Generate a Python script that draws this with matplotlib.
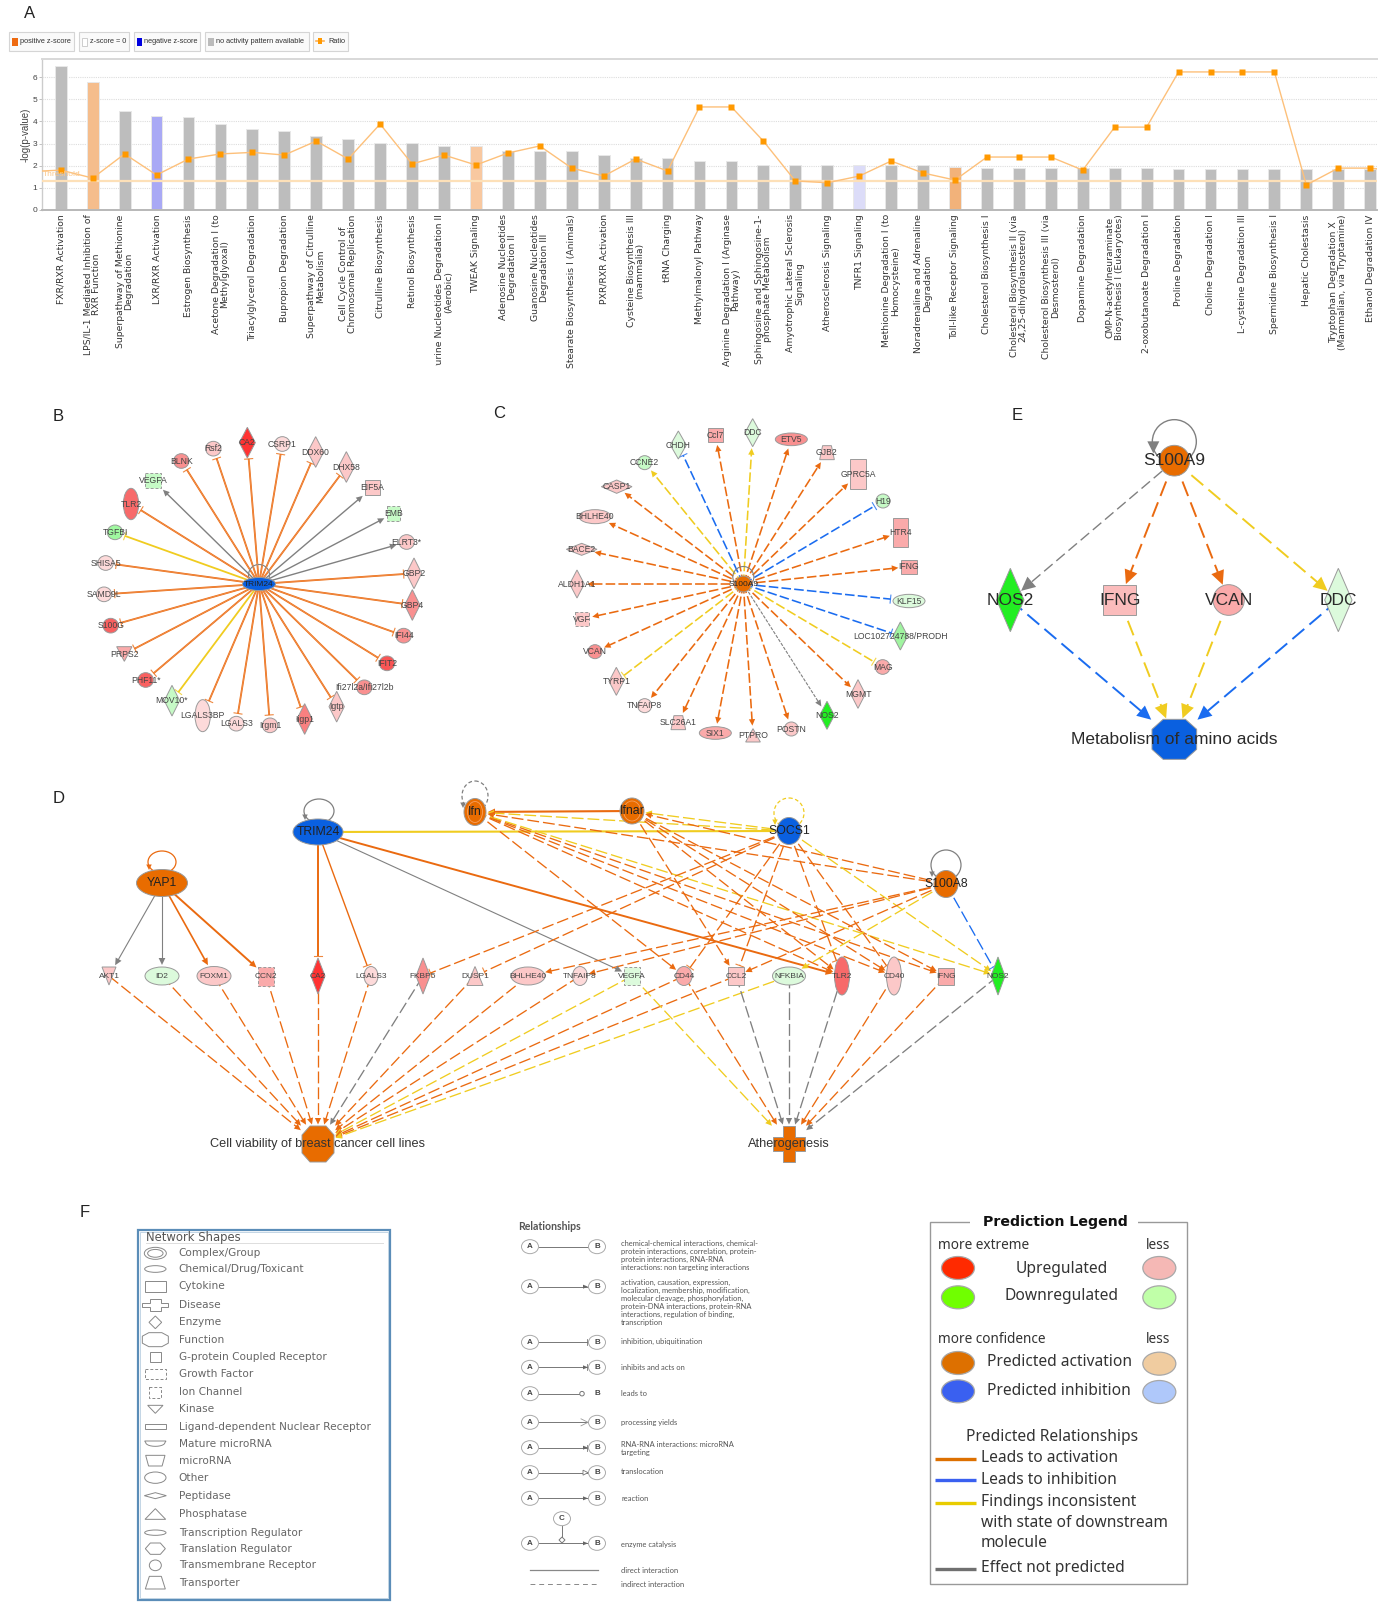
import math
import matplotlib
matplotlib.use("Agg")
import matplotlib.pyplot as plt
from matplotlib.patches import Ellipse, Polygon, Rectangle
from matplotlib.transforms import Bbox

# ---------- Panel A data ----------
categories = ["FXR/RXR Activation", "LPS/IL-1 Mediated Inhibition of\nRXR Function",
    "Superpathway of Methionine\nDegradation", "LXR/RXR Activation", "Estrogen Biosynthesis",
    "Acetone Degradation I (to\nMethylglyoxal)", "Triacylglycerol Degradation", "Bupropion Degradation",
    "Superpathway of Citrulline\nMetabolism", "Cell Cycle Control of\nChromosomal Replication",
    "Citrulline Biosynthesis", "Retinol Biosynthesis", "Purine Nucleotides Degradation II\n(Aerobic)",
    "TWEAK Signaling", "Adenosine Nucleotides\nDegradation II", "Guanosine Nucleotides\nDegradation III",
    "Stearate Biosynthesis I (Animals)", "PXR/RXR Activation", "Cysteine Biosynthesis III\n(mammalia)",
    "tRNA Charging", "Methylmalonyl Pathway", "Arginine Degradation I (Arginase\nPathway)",
    "Sphingosine and Sphingosine-1-\nphosphate Metabolism", "Amyotrophic Lateral Sclerosis\nSignaling",
    "Atherosclerosis Signaling", "TNFR1 Signaling", "Methionine Degradation I (to\nHomocysteine)",
    "Noradrenaline and Adrenaline\nDegradation", "Toll-like Receptor Signaling", "Cholesterol Biosynthesis I",
    "Cholesterol Biosynthesis II (via\n24,25-dihydrolanosterol)", "Cholesterol Biosynthesis III (via\nDesmosterol)",
    "Dopamine Degradation", "CMP-N-acetylneuraminate\nBiosynthesis I (Eukaryotes)", "2-oxobutanoate Degradation I",
    "Proline Degradation", "Choline Degradation I", "L-cysteine Degradation III", "Spermidine Biosynthesis I",
    "Hepatic Cholestasis", "Tryptophan Degradation X\n(Mammalian, via Tryptamine)", "Ethanol Degradation IV"]
neg_log_p = [6.51, 5.79, 4.48, 4.24, 4.21, 3.89, 3.67, 3.55, 3.32, 3.22, 3.04, 3.04, 2.90, 2.90, 2.68, 2.68, 2.68,
             2.47, 2.36, 2.36, 2.23, 2.23, 2.05, 2.02, 2.02, 2.02, 2.02, 2.02, 1.94, 1.91, 1.91, 1.91, 1.91, 1.91,
             1.91, 1.87, 1.87, 1.87, 1.87, 1.87, 1.87, 1.87]
ratio = [1.80, 1.44, 2.53, 1.58, 2.30, 2.53, 2.60, 2.48, 3.11, 2.30, 3.88, 2.08, 2.48, 2.03, 2.57, 2.89, 1.89,
         1.53, 2.30, 1.76, 4.65, 4.65, 3.11, 1.31, 1.23, 1.53, 2.21, 1.67, 1.35, 2.39, 2.39, 2.39, 1.80, 3.74,
         3.74, 6.23, 6.23, 6.23, 6.23, 1.13, 1.89, 1.89]
ratio_lead, ratio_tail = 1.76, 1.86
threshold = 1.3
bar_special = {1: "#f5bd8c", 3: "#a9a9f5", 13: "#f8c8a0", 25: "#dcdcf8", 28: "#f2b27a"}
yticks_a = [0, 1, 2, 3, 4, 5, 6]
legend_a = [("positive z-score", 9.4, 73.7, "#ee6a10"), ("z-score = 0", 78.6, 129, "white"),
            ("negative z-score", 133.5, 200.4, "#0000e0"), ("no activity pattern available", 205.4, 308.5, "#bbbbbb"),
            ("Ratio", 313.4, 347.8, None)]

ORANGE, BLUE, YELLOW, GRAY = "#ea6a10", "#1a6cf0", "#f0cc20", "#808080"
O_NODE, B_NODE = "#e86c00", "#0a60e0"
P1, P2, P3, P4, P5, P6 = "#fddada", "#fcc8c8", "#faaaaa", "#f99090", "#f76a6a", "#ff3333"
G1, G2, G3 = "#dcfadc", "#c6fac6", "#22ee22"
SANS = "Liberation Sans"

# ---------- Panel B: (name, x, y, shape, w, h, fill, colour, end) in 3x crop px
b_nodes = [("BLNK", 424, 213, "ell", 46, 44, P4, ORANGE, "T"), ("Rsf2", 520, 176, "ell", 46, 44, P2, ORANGE, "T"),
    ("CA2", 622, 158, "dia", 48, 92, P6, ORANGE, "T"), ("CSRP1", 727, 162, "ell", 46, 44, P1, ORANGE, "T"),
    ("DDX60", 827, 186, "dia", 48, 92, P2, ORANGE, "T"), ("DHX58", 919, 231, "dia", 48, 92, P2, ORANGE, "T"),
    ("EIF5A", 997, 293, "rect", 44, 44, P2, GRAY, "A"), ("EMB", 1061, 370, "dash", 40, 44, G2, GRAY, "A"),
    ("ELRT3*", 1100, 456, "ell", 46, 44, P2, GRAY, "A"), ("GBP2", 1122, 550, "dia", 46, 92, P2, ORANGE, "T"),
    ("GBP4", 1117, 645, "dia", 46, 92, P4, ORANGE, "T"), ("IFI44", 1091, 737, "ell", 46, 44, P4, ORANGE, "T"),
    ("IFIT2", 1041, 820, "ell", 46, 44, "#f95555", ORANGE, "T"), ("Ifi27l2a/Ifi27l2b", 973, 892, "ell", 46, 44, P4, ORANGE, "T"),
    ("Igtp", 890, 950, "dia", 46, 92, P2, ORANGE, "T"), ("Iigp1", 794, 987, "dia", 46, 92, "#f98080", ORANGE, "T"),
    ("Irgm1", 690, 1006, "ell", 46, 44, P2, ORANGE, "T"), ("LGALS3", 589, 1001, "ell", 46, 44, P1, ORANGE, "T"),
    ("LGALS3BP", 488, 977, "ell", 46, 96, P1, ORANGE, "T"), ("MOV10*", 396, 932, "dia", 46, 92, G2, YELLOW, "T"),
    ("PHF11*", 317, 870, "ell", 46, 44, "#f96060", ORANGE, "T"), ("PRPS2", 253, 792, "down", 46, 44, P3, ORANGE, "T"),
    ("S100G", 212, 707, "ell", 46, 44, "#f96060", ORANGE, "T"), ("SAMD9L", 192, 613, "ell", 46, 44, P1, ORANGE, "T"),
    ("SHISA5", 197, 519, "ell", 46, 44, P1, ORANGE, "T"), ("TGFBI", 225, 427, "ell", 46, 44, "#a0f8a0", YELLOW, "T"),
    ("TLR2", 273, 342, "ell", 46, 94, P5, ORANGE, "T"), ("VEGFA", 340, 271, "dash", 48, 44, G2, GRAY, "A")]
# ---------- Panel C ----------
c_nodes = [("CHDH", 565, 165, "dia", 48, 84, G1, BLUE, "T"), ("Ccl7", 676, 135, "rect", 44, 42, P3, ORANGE, "A"),
    ("DDC", 788, 128, "dia", 46, 84, G1, YELLOW, "A"), ("ETV5", 904, 148, "ell", 96, 38, P4, ORANGE, "A"),
    ("GJB2", 1011, 188, "trap", 44, 42, P2, ORANGE, "A"), ("GPRC5A", 1104, 252, "rect", 46, 88, P2, ORANGE, "A"),
    ("H19", 1179, 333, "ell", 42, 42, G2, BLUE, "T"), ("HTR4", 1231, 427, "rect", 46, 88, P3, ORANGE, "A"),
    ("IFNG", 1257, 530, "rect", 46, 42, P3, ORANGE, "A"), ("KLF15", 1257, 633, "ell", 96, 40, G1, BLUE, "T"),
    ("LOC102724788/PRODH", 1231, 738, "dia", 44, 84, "#a0f4a0", BLUE, "T"), ("MAG", 1178, 831, "ell", 44, 44, P3, YELLOW, "T"),
    ("MGMT", 1104, 912, "dia", 44, 86, P2, ORANGE, "A"), ("NOS2", 1011, 976, "dia", 44, 84, G3, GRAY, "A"),
    ("POSTN", 904, 1017, "ell", 42, 42, P2, ORANGE, "A"), ("PTPRO", 789, 1036, "up", 44, 40, P2, ORANGE, "A"),
    ("SIX1", 676, 1029, "ell", 96, 38, P3, ORANGE, "A"), ("SLC26A1", 565, 998, "trap", 44, 42, P2, ORANGE, "A"),
    ("TNFAIP8", 464, 947, "ell", 42, 42, P1, ORANGE, "A"), ("TYRP1", 379, 874, "dia", 44, 84, P2, YELLOW, "T"),
    ("VCAN", 315, 785, "ell", 42, 42, P4, ORANGE, "A"), ("VGF", 276, 687, "dash", 44, 42, P2, ORANGE, "A"),
    ("ALDH1A1", 261, 582, "dia", 44, 84, P2, ORANGE, "A"), ("BACE2", 275, 478, "dia", 92, 36, P2, ORANGE, "A"),
    ("BHLHE40", 315, 380, "ell", 96, 42, P2, ORANGE, "A"), ("CASP1", 380, 290, "dia", 92, 40, P2, ORANGE, "A"),
    ("CCNE2", 464, 218, "ell", 42, 42, G2, YELLOW, "A")]
# ---------- Panel E ----------
e_nodes = [("S100A9", 643, 212, "ell", 92, 92, O_NODE), ("NOS2", 151, 630, "dia", 82, 190, G3),
    ("IFNG", 479, 630, "rect", 98, 90, "#fbbcbc"), ("VCAN", 806, 630, "ell", 94, 92, P3),
    ("DDC", 1135, 630, "dia", 82, 190, G1), ("Metabolism of amino acids", 643, 1048, "oct", 134, 120, B_NODE)]
e_edges = [("S100A9", "NOS2", GRAY, 1.0), ("S100A9", "IFNG", ORANGE, 1.4), ("S100A9", "VCAN", ORANGE, 1.4),
    ("S100A9", "DDC", YELLOW, 1.4), ("NOS2", "Metabolism of amino acids", BLUE, 1.4),
    ("IFNG", "Metabolism of amino acids", YELLOW, 1.4), ("VCAN", "Metabolism of amino acids", YELLOW, 1.4),
    ("DDC", "Metabolism of amino acids", BLUE, 1.4)]
# ---------- Panel D, in figure px ----------
d_nodes = [("TRIM24", 318, 832, "ell", 50, 26, B_NODE), ("Ifn", 475, 812, "ell", 22, 27, O_NODE),
    ("Ifnar", 632, 811, "ell", 24, 26, O_NODE), ("SOCS1", 789, 831, "ell", 24, 27, B_NODE),
    ("S100A8", 946, 884, "ell", 24, 27, O_NODE), ("YAP1", 162, 883, "ell", 51, 27, O_NODE),
    ("AKT1", 109, 976, "down", 14, 18, P2), ("ID2", 162, 976, "ell", 34, 18, G1), ("FOXM1", 214, 976, "ell", 34, 19, P2),
    ("CCN2", 266, 976, "dash", 16, 19, P3), ("CA2", 318, 976, "dia", 14, 36, P6), ("LGALS3", 371, 976, "ell", 14, 19, P1),
    ("FKBP5", 423, 976, "dia", 14, 36, P4), ("DUSP1", 475, 976, "up", 16, 19, P2), ("BHLHE40", 528, 976, "ell", 34, 18, P2),
    ("TNFAIP8", 580, 976, "ell", 15, 19, P1), ("VEGFA", 632, 976, "dash", 16, 18, G1), ("CD44", 684, 976, "ell", 16, 19, P3),
    ("CCL2", 736, 976, "rect", 16, 18, P2), ("NFKBIA", 789, 976, "ell", 33, 18, G1), ("TLR2", 842, 976, "ell", 15, 38, P5),
    ("CD40", 894, 976, "ell", 15, 38, P2), ("IFNG", 946, 976, "rect", 16, 17, P3), ("NOS2", 998, 976, "dia", 14, 38, G3),
    ("Cell viability of breast cancer cell lines", 318, 1144, "oct", 32, 36, O_NODE),
    ("Atherogenesis", 789, 1144, "cross", 32, 36, O_NODE)]
CV, AT = "Cell viability of breast cancer cell lines", "Atherogenesis"
d_solid = [("YAP1", "AKT1", GRAY, "A", 0.8), ("YAP1", "ID2", GRAY, "A", 0.8), ("YAP1", "FOXM1", ORANGE, "A", 1.2),
    ("YAP1", "CCN2", ORANGE, "A", 1.4), ("TRIM24", "CA2", ORANGE, "T", 1.4), ("TRIM24", "LGALS3", ORANGE, "T", 1.0),
    ("TRIM24", "VEGFA", GRAY, "A", 0.8), ("TRIM24", "TLR2", ORANGE, "A", 1.4), ("TRIM24", "SOCS1", YELLOW, "N", 1.5),
    ("Ifnar", "Ifn", ORANGE, "A", 1.5)]
d_dashed = [("SOCS1", "Ifn", YELLOW, "A"), ("SOCS1", "Ifnar", YELLOW, "A"), ("S100A8", "Ifn", ORANGE, "A"),
    ("S100A8", "Ifnar", ORANGE, "A"), ("Ifn", "CD44", ORANGE, "A"), ("Ifn", "TLR2", ORANGE, "A"), ("Ifn", "CD40", ORANGE, "A"),
    ("Ifn", "IFNG", ORANGE, "A"), ("Ifn", "NOS2", YELLOW, "A"), ("Ifnar", "CCL2", ORANGE, "A"), ("Ifnar", "TLR2", ORANGE, "A"),
    ("Ifnar", "CD40", ORANGE, "A"), ("Ifnar", "IFNG", ORANGE, "A"), ("SOCS1", "FKBP5", ORANGE, "T"), ("SOCS1", "DUSP1", ORANGE, "T"),
    ("SOCS1", "CD44", ORANGE, "T"), ("SOCS1", "CCL2", ORANGE, "T"), ("SOCS1", "TLR2", ORANGE, "T"), ("SOCS1", "CD40", ORANGE, "T"),
    ("SOCS1", "NOS2", YELLOW, "A"), ("S100A8", "BHLHE40", ORANGE, "A"), ("S100A8", "TNFAIP8", ORANGE, "A"),
    ("S100A8", "CCL2", ORANGE, "A"), ("S100A8", "NFKBIA", YELLOW, "A"), ("S100A8", "NOS2", BLUE, "T"),
    ("AKT1", CV, ORANGE, "A"), ("ID2", CV, ORANGE, "A"), ("FOXM1", CV, ORANGE, "A"), ("CCN2", CV, ORANGE, "A"), ("CA2", CV, ORANGE, "A"),
    ("LGALS3", CV, ORANGE, "A"), ("FKBP5", CV, GRAY, "A"), ("DUSP1", CV, ORANGE, "A"), ("BHLHE40", CV, ORANGE, "A"),
    ("TNFAIP8", CV, ORANGE, "A"), ("VEGFA", CV, YELLOW, "A"), ("CD44", CV, ORANGE, "A"), ("CCL2", CV, ORANGE, "A"), ("NFKBIA", CV, YELLOW, "A"),
    ("VEGFA", AT, YELLOW, "A"), ("CD44", AT, ORANGE, "A"), ("CCL2", AT, GRAY, "A"), ("NFKBIA", AT, GRAY, "A"), ("TLR2", AT, GRAY, "A"),
    ("CD40", AT, ORANGE, "A"), ("IFNG", AT, ORANGE, "A"), ("NOS2", AT, GRAY, "A")]
d_loops = [("YAP1", 162, 862, 14, 11, ORANGE, "-"), ("TRIM24", 319, 811, 15, 12, GRAY, "-"), ("Ifn", 475, 796, 13, 15, GRAY, "--"),
    ("SOCS1", 789, 813, 15, 15, YELLOW, "--"), ("S100A8", 946, 865, 15, 15, GRAY, "-")]
# ---------- Panel F ----------
shape_rows = [("Complex/Group", 160, "dbl", 66, 36), ("Chemical/Drug/Toxicant", 207, "ell", 64, 20), ("Cytokine", 259, "rect", 62, 32),
    ("Disease", 315, "cross", 78, 36), ("Enzyme", 367, "dia", 38, 38), ("Function", 419, "oct", 78, 42),
    ("G-protein Coupled Receptor", 471, "rect", 34, 32), ("Growth Factor", 522, "dash", 62, 32), ("Ion Channel", 577, "dash", 36, 32),
    ("Kinase", 628, "down", 46, 24), ("Ligand-dependent Nuclear Receptor", 680, "rect", 64, 16), ("Mature microRNA", 731, "bowl", 64, 16),
    ("microRNA", 782, "itrap", 58, 32), ("Other", 833, "ell", 64, 34), ("Peptidase", 887, "dia", 66, 18), ("Phosphatase", 942, "up", 62, 32),
    ("Transcription Regulator", 998, "ell", 64, 16), ("Translation Regulator", 1046, "hex", 60, 34),
    ("Transmembrane Receptor", 1096, "ell", 36, 32), ("Transporter", 1148, "trap", 60, 38)]
rel_rows = [(110, "none", 99, "chemical-chemical interactions, chemical-\nprotein interactions, correlation, protein-\nprotein interactions, RNA-RNA\ninteractions: non targeting interactions"),
    (230, "arrow", 218, "activation, causation, expression,\nlocalization, membership, modification,\nmolecular cleavage, phosphorylation,\nprotein-DNA interactions, protein-RNA\ninteractions, regulation of binding,\ntranscription"),
    (397, "tbar", 394, "inhibition, ubiquitination"), (472, "arrowbar", 472, "inhibits and acts on"),
    (551, "circle", 551, "leads to"), (637, "open", 636, "processing yields"),
    (713, "arrowbar", 703, "RNA-RNA interactions: microRNA\ntargeting"), (788, "tri", 785, "translocation"),
    (865, "arrow", 865, "reaction"), (1000, "arrow", 1002, "enzyme catalysis")]

fig = plt.figure(figsize=(13.9, 16.1), dpi=100, facecolor="white")
ax = fig.add_axes([0, 0, 1, 1])
ax.set_xlim(0, 1390)
ax.set_ylim(1610, 0)
ax.axis("off")


def poly_pts(shape, x, y, w, h):
    a, b = w / 2, h / 2
    if shape == "dia":
        return [(x, y - b), (x + a, y), (x, y + b), (x - a, y)]
    if shape == "up":
        return [(x, y - b), (x + a, y + b), (x - a, y + b)]
    if shape == "down":
        return [(x - a, y - b), (x + a, y - b), (x, y + b)]
    if shape == "trap":
        return [(x - a * .6, y - b), (x + a * .6, y - b), (x + a, y + b), (x - a, y + b)]
    if shape == "itrap":
        return [(x - a, y - b), (x + a, y - b), (x + a * .7, y + b), (x - a * .7, y + b)]
    if shape == "oct":
        return [(x - a * .5, y - b), (x + a * .5, y - b), (x + a, y - b * .5), (x + a, y + b * .5),
                (x + a * .5, y + b), (x - a * .5, y + b), (x - a, y + b * .5), (x - a, y - b * .5)]
    if shape == "hex":
        return [(x - a * .5, y - b), (x + a * .5, y - b), (x + a, y), (x + a * .5, y + b), (x - a * .5, y + b), (x - a, y)]
    if shape == "cross":
        c, d = a * .4, b * .4
        return [(x - c, y - b), (x + c, y - b), (x + c, y - d), (x + a, y - d), (x + a, y + d), (x + c, y + d),
                (x + c, y + b), (x - c, y + b), (x - c, y + d), (x - a, y + d), (x - a, y - d), (x - c, y - d)]
    if shape == "bowl":
        pts = [(x - a, y - b)]
        for i in range(13):
            t = math.pi * i / 12
            pts.append((x - a * math.cos(t) * .9, y - b * .4 + b * 1.4 * math.sin(t)))
        pts.append((x + a, y - b))
        return pts
    return [(x - a, y - b), (x + a, y - b), (x + a, y + b), (x - a, y + b)]


def draw_shape(shape, x, y, w, h, fc, ec="#9a9a9a", lw=0.7, z=4):
    if shape in ("ell", "dbl"):
        ax.add_patch(Ellipse((x, y), w, h, fc=fc, ec=ec, lw=lw, zorder=z))
        if shape == "dbl":
            ax.add_patch(Ellipse((x, y), w * .7, h * .65, fc=fc, ec=ec, lw=lw, zorder=z))
    else:
        ls = (0, (3, 2)) if shape == "dash" else "-"
        ax.add_patch(Polygon(poly_pts(shape, x, y, w, h), closed=True, fc=fc, ec=ec, lw=lw, ls=ls, zorder=z))


def boundary(n, ux, uy):
    a, b, s = n["w"] / 2, n["h"] / 2, n["shape"]
    ax_, ay_ = abs(ux), abs(uy)
    if s == "ell":
        return 1 / math.sqrt((ax_ / a) ** 2 + (ay_ / b) ** 2)
    if s == "dia":
        return 1 / (ax_ / a + ay_ / b)
    return min(a / max(ax_, 1e-6), b / max(ay_, 1e-6))


def draw_edge(p, n, color, end, lw, dashes=None, head=7, gap=2.5, tee=4, core=False):
    dx, dy = n["x"] - p[0], n["y"] - p[1]
    L = math.hypot(dx, dy)
    ux, uy = dx / L, dy / L
    r = boundary(n, ux, uy) + gap
    tx, ty = n["x"] - ux * r, n["y"] - uy * r
    ex, ey = (tx - ux * head * .8, ty - uy * head * .8) if end == "A" else (tx, ty)
    ls = (0, dashes) if dashes else "-"
    ax.plot([p[0], ex], [p[1], ey], color=color, lw=lw, ls=ls, zorder=2, solid_capstyle="butt", dash_capstyle="butt")
    if core:
        ax.plot([p[0], ex], [p[1], ey], color="#f8b080", lw=lw * .22, zorder=2.1)
    if end == "A":
        hw = head * .48
        ax.add_patch(Polygon([(tx, ty), (tx - ux * head - uy * hw, ty - uy * head + ux * hw),
                              (tx - ux * head + uy * hw, ty - uy * head - ux * hw)], closed=True, fc=color, ec="none", zorder=3))
    elif end == "T":
        ax.plot([tx - uy * tee, tx + uy * tee], [ty + ux * tee, ty - ux * tee], color=color, lw=0.8, zorder=3, alpha=.8)


def make_nodes(rows, ox, oy, sx, sy):
    return {r[0]: {"x": ox + r[1] / sx, "y": oy + r[2] / sy, "shape": r[3], "w": r[4] / sx, "h": r[5] / sy, "fc": r[6]} for r in rows}


def label(x, y, s, size, color="#333333", ha="center", va="center", family=SANS, **kw):
    return ax.text(x, y, s, fontsize=size, color=color, ha=ha, va=va, family=family, zorder=6, **kw)


def loop(x, y, rx, ry, color, ls, tip_x, tip_y, head=6, lw=0.9):
    style = (0, (3, 2)) if ls == "--" else "-"
    ax.add_patch(Ellipse((x, y), rx * 2, ry * 2, fc="none", ec=color, lw=lw, ls=style, zorder=2))
    ax.add_patch(Polygon([(tip_x, tip_y), (tip_x - head * .5, tip_y - head), (tip_x + head * .5, tip_y - head)],
                         closed=True, fc=color, ec="none", zorder=3))


# ---------- Panel A ----------
ax_a = fig.add_axes([42 / 1390, 1 - 210 / 1610, (1376.6 - 42) / 1390, (210 - 59.3) / 1610])
xs = list(range(len(categories)))
bar_colors = [bar_special.get(i, "#bdbdbd") for i in xs]
ax_a.bar(xs, neg_log_p, width=0.37, color=bar_colors, edgecolor="#e8e8e8", linewidth=0.7, zorder=2)
ax_a.axhline(threshold, color="#fde0b8", lw=1.6, zorder=3)
ax_a.plot([xs[0] - 0.586] + xs + [xs[-1] + 0.2], [ratio_lead] + ratio + [ratio_tail], color="#fdc07a", lw=1.0, zorder=4)
ax_a.plot(xs, ratio, ls="none", marker="s", ms=4.3, color="#ff9900", mec="none", zorder=5)
ax_a.set_xlim(-0.586, 41.2)
ax_a.set_ylim(0, 6.8)
ax_a.set_yticks(yticks_a)
ax_a.set_yticklabels([str(v) for v in yticks_a], family=SANS, fontsize=6, color="#444444")
ax_a.tick_params(axis="y", length=2, width=0.5, pad=1.5, color="#aaaaaa")
ax_a.yaxis.grid(True, ls=(0, (1, 1)), color="#dddddd", lw=0.8, zorder=0)
ax_a.set_axisbelow(True)
ax_a.set_xticks(xs)
ticklabels = ax_a.set_xticklabels(categories, rotation=90, ha="center", va="top", multialignment="center",
                                  fontsize=6.7, color="#333333", family="DejaVu Sans", linespacing=0.95)
ax_a.tick_params(axis="x", length=0, pad=3)
ticklabels[12].set_clip_box(Bbox([[0, 1610 - 366], [1390, 1610]]))
ticklabels[12].set_clip_on(True)
ax_a.set_ylabel("-log(p-value)", family=SANS, fontsize=7, color="#444444")
ax_a.yaxis.set_label_coords((31 - 42) / (1376.6 - 42), (210 - 135) / (210 - 59.3))
for side, col, w in [("top", "#d8d8d8", 1.4), ("left", "#cccccc", 1.0), ("bottom", "#b8b8b8", 1.4)]:
    ax_a.spines[side].set_color(col)
    ax_a.spines[side].set_linewidth(w)
ax_a.spines["right"].set_visible(False)
ax_a.text(0.0005, (210 - 174) / (210 - 59.3), "Threshold", transform=ax_a.transAxes, family=SANS, fontsize=6,
          color="#fbc78a", va="center", zorder=6)

for name, x0, x1, col in legend_a:
    ax.add_patch(Rectangle((x0, 31.7), x1 - x0, 19.3, fc="#fafafa", ec="#d5d5d5", lw=0.8, zorder=2))
    if col is None:
        ax.plot([x0 + 3, x0 + 11], [41, 41], color="#ffb050", lw=1.2, zorder=3)
        ax.add_patch(Rectangle((x0 + 5, 38), 4, 6, fc="#ff9900", ec="none", zorder=4))
        label(x0 + 15, 41.7, name, 5.3, ha="left")
    else:
        ax.add_patch(Rectangle((x0 + 3, 37.7), 5.5, 8, fc=col, ec="#bbbbbb" if col == "white" else "none", lw=0.5, zorder=3))
        label(x0 + 11, 41.7, name, 5.3, ha="left")

# ---------- panel letters ----------
for s, x, y in [("A", 30, 13.5), ("B", 58.5, 416), ("C", 499, 413), ("D", 58.5, 798), ("E", 1017, 415), ("F", 85, 1212)]:
    label(x, y, s, 12, color="#222222")

# ---------- Panel B ----------
bn = make_nodes(b_nodes, 40, 390, 3, 3)
bc = (40 + 657 / 3, 390 + 582 / 3)
for r in b_nodes:
    draw_edge(bc, bn[r[0]], r[7], r[8], 1.3 if r[7] != GRAY else 1.0, head=6.5, gap=3, tee=4, core=r[7] == ORANGE)
ax.add_patch(Ellipse((bc[0], bc[1] - 9), 21, 21, fc="none", ec=GRAY, lw=0.8, zorder=2))
draw_shape("ell", bc[0], bc[1], 33, 13, B_NODE, z=4)
label(bc[0], bc[1], "TRIM24", 6, color="#222222")
for r in b_nodes:
    draw_shape(r[3], bn[r[0]]["x"], bn[r[0]]["y"], bn[r[0]]["w"], bn[r[0]]["h"], r[6])
    label(bn[r[0]]["x"], bn[r[0]]["y"], r[0], 6.2, color="#444444")

# ---------- Panel C ----------
cn = make_nodes(c_nodes, 490, 390, 3, 3)
cc = (490 + 760 / 3, 390 + 582 / 3)
for r in c_nodes:
    thin = r[7] == GRAY
    draw_edge(cc, cn[r[0]], r[7], r[8], 0.8 if thin else 1.15, dashes=(3, 1.2) if thin else (6, 2), head=6.5, gap=3, tee=4)
ax.add_patch(Ellipse((cc[0], cc[1] - 7), 21, 21, fc="none", ec=GRAY, lw=0.8, zorder=2))
draw_shape("ell", cc[0], cc[1], 16, 16, O_NODE)
label(cc[0], cc[1], "S100A9", 6, color="#222222")
for r in c_nodes:
    draw_shape(r[3], cn[r[0]]["x"], cn[r[0]]["y"], cn[r[0]]["w"], cn[r[0]]["h"], r[6])
    label(cn[r[0]]["x"], cn[r[0]]["y"], r[0], 6.2, color="#444444")

# ---------- Panel E ----------
en = make_nodes(e_nodes, 960, 390, 3, 3)
for a, b, col, lw in e_edges:
    p = (en[a]["x"], en[a]["y"])
    draw_edge(p, en[b], col, "A", lw, dashes=(8, 3.5), head=14, gap=1)
loop(960 + 643 / 3, 390 + 155 / 3, 22, 22, GRAY, "-", 960 + 580 / 3, 390 + 190 / 3, head=12, lw=1.0)
for r in e_nodes:
    n = en[r[0]]
    draw_shape(r[3], n["x"], n["y"], n["w"], n["h"], r[6])
    label(n["x"], n["y"], r[0], 12.5, color="#2a2a2a")

# ---------- Panel D ----------
dn = {r[0]: {"x": r[1], "y": r[2], "shape": r[3], "w": r[4], "h": r[5], "fc": r[6]} for r in d_nodes}
for a, b, col, end, lw in d_solid:
    draw_edge((dn[a]["x"], dn[a]["y"]), dn[b], col, end, lw, head=7, gap=2)
for a, b, col, end in d_dashed:
    draw_edge((dn[a]["x"], dn[a]["y"]), dn[b], col, end, 0.95, dashes=(9, 3), head=6.5, gap=1.5, tee=4)
for name, x, y, rx, ry, col, ls in d_loops:
    loop(x, y, rx, ry, col, ls, x - rx + 1, y + ry - 3, head=5.5)
for name, zw, zh in [("Ifn", 15, 21), ("Ifnar", 17, 20)]:
    ax.add_patch(Ellipse((dn[name]["x"], dn[name]["y"]), zw, zh, fc="none", ec="#f5a060", lw=0.6, zorder=5))
for r in d_nodes:
    n = dn[r[0]]
    draw_shape(r[3], n["x"], n["y"], n["w"], n["h"], r[6])
    if n["y"] > 1100:
        label(n["x"], n["y"], r[0], 9.2, color="#333333")
    elif n["y"] < 900:
        label(n["x"], n["y"], r[0], 8.8, color="#222222")
    else:
        label(n["x"], n["y"], r[0], 6.0, color="#444444")

# ---------- Panel F: network shapes ----------
ax.add_patch(Rectangle((137.5, 1229.5), 252.5, 370, fc="white", ec="#5b8db8", lw=1.6, zorder=1))
ax.add_patch(Rectangle((139.5, 1231.5), 248.5, 366, fc="white", ec="#b9cfe0", lw=0.6, zorder=1))
label(80 + 198 / 3, 1200 + 112 / 3, "Network Shapes", 8.4, color="#555555", ha="left", family="DejaVu Sans")
ax.plot([80 + 198 / 3, 80 + 908 / 3], [1200 + 128 / 3] * 2, color="#dddddd", lw=0.7, zorder=2)
for name, zy, shape, zw, zh in shape_rows:
    draw_shape(shape, 80 + 226 / 3, 1200 + zy / 3, zw / 3, zh / 3, "white", ec="#888888", lw=0.7)
    label(80 + 296 / 3, 1200 + zy / 3, name, 7.6, color="#666666", ha="left", family="DejaVu Sans")

# ---------- Panel F: relationships ----------
RX, RY = 500, 1210
label(RX + 55 / 3, RY + 48 / 3, "Relationships", 7.6, color="#555555", ha="left", family="Lato", fontweight="bold")
for zy, kind, ty, txt in rel_rows:
    y = RY + zy / 3
    xa, xb = RX + 90 / 3, RX + 291 / 3
    draw_shape("ell", xa, y, 17, 14, "white", ec="#aaaaaa", z=3)
    label(xa, y, "A", 5.8, color="#444444", fontweight="bold")
    if kind != "circle":
        draw_shape("ell", xb, y, 17, 14, "white", ec="#aaaaaa", z=3)
    label(xb, y, "B", 5.8, color="#444444", fontweight="bold")
    xe = xb - 9
    ax.plot([xa + 8.5, xe - (8 if kind == "circle" else 0)], [y, y], color="#777777", lw=0.7, zorder=2)
    if kind in ("arrow", "arrowbar"):
        ax.add_patch(Polygon([(xe, y), (xe - 5, y - 2), (xe - 5, y + 2)], fc="#666666", ec="none", zorder=3))
    if kind in ("tbar", "arrowbar"):
        ax.plot([xe - 1, xe - 1], [y - 3, y + 3], color="#777777", lw=0.6, zorder=3)
    if kind == "circle":
        draw_shape("ell", xe - 6, y, 4.5, 4.5, "white", ec="#777777", z=3)
    if kind == "open":
        ax.plot([xe - 7, xe, xe - 7], [y - 3.5, y, y + 3.5], color="#999999", lw=0.6, zorder=3)
    if kind == "tri":
        ax.add_patch(Polygon([(xe, y), (xe - 5, y - 2.5), (xe - 5, y + 2.5)], fc="white", ec="#777777", lw=0.6, zorder=3))
    for i, line in enumerate(txt.split("\n")):
        label(RX + 363 / 3, RY + (ty + i * 24) / 3, line, 5.4, color="#555555", ha="left", family="Lato")
cx, cy = RX + 186 / 3, RY + 926 / 3
ax.plot([cx, cx], [cy + 7, RY + 985 / 3], color="#777777", lw=0.7, zorder=2)
draw_shape("ell", cx, cy, 17, 14, "white", ec="#aaaaaa", z=3)
label(cx, cy, "C", 5.8, color="#444444", fontweight="bold")
draw_shape("dia", cx, RY + 990 / 3, 6, 6, "white", ec="#777777", z=3)
ax.plot([RX + 90 / 3, RX + 293 / 3], [RY + 1080 / 3] * 2, color="#888888", lw=0.9, zorder=2)
ax.plot([RX + 90 / 3, RX + 293 / 3], [RY + 1123 / 3] * 2, color="#888888", lw=0.7, ls=(0, (5, 4)), zorder=2)
label(RX + 363 / 3, RY + 1080 / 3, "direct interaction", 5.4, color="#555555", ha="left", family="Lato")
label(RX + 363 / 3, RY + 1123 / 3, "indirect interaction", 5.4, color="#555555", ha="left", family="Lato")

# ---------- Panel F: prediction legend ----------
PX, PY = 920, 1200
NS = "Noto Sans"
ax.add_patch(Rectangle((PX + 30 / 3, PY + 67 / 3), 772 / 3, 1086 / 3, fc="white", ec="#999999", lw=1.0, zorder=1))
ax.add_patch(Rectangle((PX + 150 / 3, PY + 55 / 3), 505 / 3, 24 / 3, fc="white", ec="none", zorder=2))
label(PX + 405 / 3, PY + 67 / 3, "Prediction Legend", 10.2, color="#111111", family="DejaVu Sans", fontweight="bold")
pred_text = [("more extreme", 55, 135, "left", 9.8), ("less", 713, 135, "center", 9.8), ("Upregulated", 424, 207, "center", 11.2),
    ("Downregulated", 426, 289, "center", 11.2), ("more confidence", 55, 417, "left", 9.8), ("less", 713, 417, "center", 9.8),
    ("Predicted activation", 418, 487, "center", 11.2), ("Predicted inhibition", 418, 573, "center", 11.2),
    ("Predicted Relationships", 395, 710, "center", 11.2), ("Leads to activation", 182, 775, "left", 11.2),
    ("Leads to inhibition", 182, 840, "left", 11.2), ("Findings inconsistent", 182, 906, "left", 11.2),
    ("with state of downstream", 182, 968, "left", 11.2), ("molecule", 182, 1030, "left", 11.2), ("Effect not predicted", 182, 1103, "left", 11.2)]
for s, zx, zy, ha, size in pred_text:
    label(PX + zx / 3, PY + zy / 3, s, size, color="#333333", ha=ha, family=NS)
pred_swatches = [(114, 204, "#ff2a00"), (718, 204, "#f5b8b5"), (114, 292, "#70ff00"), (718, 292, "#c0ffa8"),
    (114, 489, "#dd7000"), (718, 491, "#f0cca0"), (114, 574, "#3a60f0"), (718, 576, "#afc8fa")]
for zx, zy, col in pred_swatches:
    ax.add_patch(Ellipse((PX + zx / 3, PY + zy / 3), 33, 23, fc=col, ec="#a8a8a8", lw=0.9, zorder=3))
pred_lines = [(777, "#dd7000"), (841, "#3a60f0"), (909, "#e8cc00"), (1106, "#707070")]
for zy, col in pred_lines:
    ax.plot([PX + 46 / 3, PX + 168 / 3], [PY + zy / 3] * 2, color=col, lw=2.4, zorder=3, solid_capstyle="butt")

fig.savefig("out.png", dpi=100, facecolor="white")
